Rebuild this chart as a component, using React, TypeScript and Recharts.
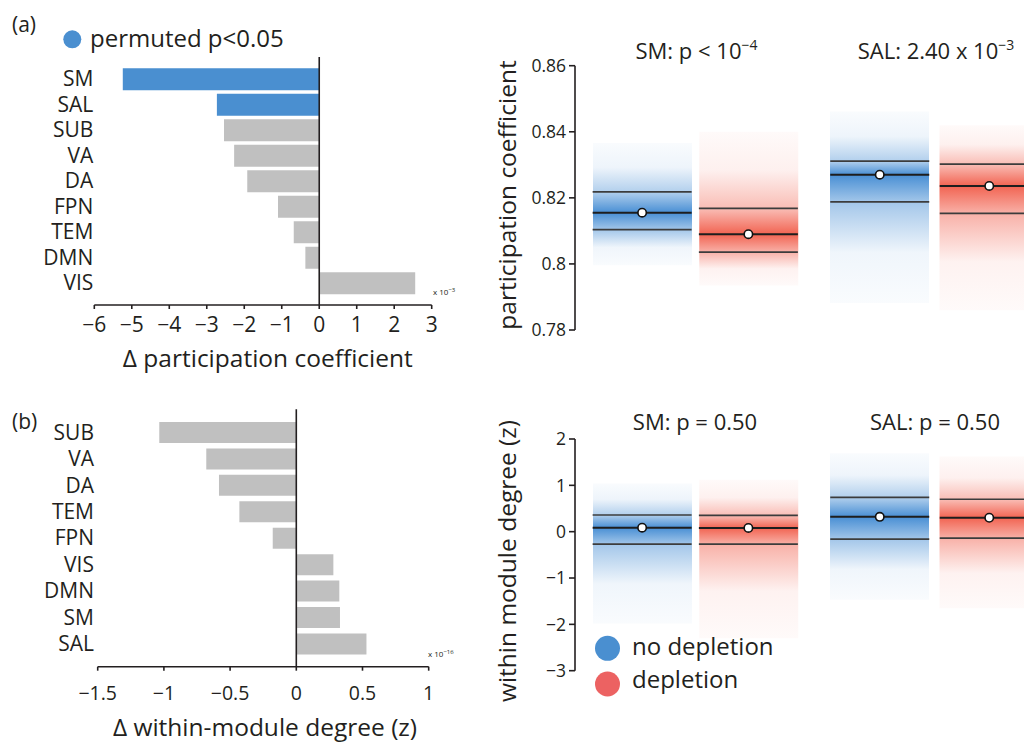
import React from 'react'
import {
  BarChart,
  ComposedChart,
  Bar,
  Scatter,
  XAxis,
  YAxis,
  Cell,
  ReferenceLine,
} from 'recharts'

const FONT = '"Open Sans", sans-serif'
const INK = '#231f20'
const BLUE = '#4a8fd0'
const GRAY = '#c0c0c0'
const BOX_BLUE = '#3f89d2'
const BOX_RED = '#f15c49'
const LEGEND_RED = '#ec6262'
const BOX_W = 99

// (a) change in participation coefficient, x 10^-3
const pcNetworks = ['SM', 'SAL', 'SUB', 'VA', 'DA', 'FPN', 'TEM', 'DMN', 'VIS']
const pcDelta = [-5.24, -2.73, -2.54, -2.27, -1.92, -1.1, -0.68, -0.37, 2.56]
const pcSignificant = [true, true, false, false, false, false, false, false, false]
const pcTicks = [-6, -5, -4, -3, -2, -1, 0, 1, 2, 3]

// (b) change in within-module degree, x 10^-16
const wmdNetworks = ['SUB', 'VA', 'DA', 'TEM', 'FPN', 'VIS', 'DMN', 'SM', 'SAL']
const wmdDelta = [-1.035, -0.68, -0.584, -0.43, -0.178, 0.28, 0.325, 0.33, 0.53]
const wmdTicks = [-1.5, -1, -0.5, 0, 0.5, 1]

const conditions = ['no depletion', 'depletion']

// distributions per condition: [min, lower, mean, upper, max]
const pcSM = [
  [0.7996, 0.8104, 0.8155, 0.8218, 0.8366],
  [0.7935, 0.8036, 0.809, 0.8168, 0.84],
]
const pcSAL = [
  [0.7882, 0.8188, 0.827, 0.8311, 0.8461],
  [0.786, 0.8153, 0.8236, 0.8302, 0.842],
]
const pcBoxTicks = [0.78, 0.8, 0.82, 0.84, 0.86]

const wmdSM = [
  [-1.98, -0.27, 0.086, 0.36, 1.04],
  [-2.3, -0.27, 0.08, 0.35, 1.12],
]
const wmdSAL = [
  [-1.47, -0.16, 0.32, 0.74, 1.69],
  [-1.65, -0.14, 0.3, 0.7, 1.62],
]
const wmdBoxTicks = [-3, -2, -1, 0, 1, 2]

const minus = (v: number) => String(v).replace('-', '\u2212')

type DeltaProps = {
  names: string[];
  values: number[];
  highlight: boolean[];
  ticks: number[];
  top: number;
  height: number;
  marginTop: number;
  yWidth: number;
  marginRight: number;
  padBottom: number;
  barSize: number;
  labelMargin: number;
  tickMargin: number;
  tickFont: number;
}

function DeltaBars({
  names, values, highlight, ticks, top, height, marginTop, yWidth, marginRight,
  padBottom, barSize, labelMargin, tickMargin, tickFont,
}: DeltaProps) {
  const data = names.map((name, i) => ({ name, value: values[i], sig: highlight[i] }))
  return (
    <div style={{ position: 'absolute', left: 0, top }}>
      <BarChart
        layout="vertical"
        width={460}
        height={height}
        data={data}
        margin={{ top: marginTop, right: marginRight, bottom: 0, left: 0 }}
      >
        <XAxis
          type="number"
          domain={[ticks[0], ticks[ticks.length - 1]]}
          ticks={ticks}
          interval={0}
          tickFormatter={minus}
          height={40}
          tickSize={4}
          tickMargin={tickMargin}
          axisLine={{ stroke: INK, strokeWidth: 1.6 }}
          tickLine={{ stroke: INK, strokeWidth: 1.6 }}
          tick={{ fill: INK, fontSize: tickFont, fontFamily: FONT }}
        />
        <YAxis
          type="category"
          dataKey="name"
          width={yWidth}
          interval={0}
          padding={{ top: 0, bottom: padBottom }}
          axisLine={false}
          tickLine={false}
          tickSize={0}
          tickMargin={labelMargin}
          tick={{ fill: INK, fontSize: 21, fontFamily: FONT }}
        />
        <Bar dataKey="value" barSize={barSize} isAnimationActive={false}>
          {data.map((d) => (
            <Cell key={d.name} fill={d.sig ? BLUE : GRAY} />
          ))}
        </Bar>
        <ReferenceLine
          x={0}
          stroke={INK}
          strokeWidth={1.6}
          shape={(p: any) => (
            <line x1={p.x1} x2={p.x2} y1={p.y1} y2={p.y2 - padBottom} stroke={INK} strokeWidth={1.6} />
          )}
        />
      </BarChart>
    </div>
  )
}

function gradientStops(row: number[]) {
  const [lo, ciLo, mean, ciHi, hi] = row
  const off = (v: number) => (hi - v) / (hi - lo)
  return [
    [0, 0.03],
    [off((hi + ciHi) / 2), 0.09],
    [off(ciHi), 0.4],
    [off(mean), 0.95],
    [off(ciLo), 0.48],
    [off((ciLo + lo) / 2), 0.08],
    [1, 0.03],
  ]
}

const ciLine = (p: any) => (
  <line x1={p.cx - BOX_W / 2} x2={p.cx + BOX_W / 2} y1={p.cy} y2={p.cy} stroke="#3c3c3c" strokeWidth={1.7} />
)

const meanMark = (p: any) => (
  <g>
    <line x1={p.cx - BOX_W / 2} x2={p.cx + BOX_W / 2} y1={p.cy} y2={p.cy} stroke="#1e1e1e" strokeWidth={2} />
    <circle cx={p.cx} cy={p.cy} r={4.2} fill="#fff" stroke="#111" strokeWidth={1.6} />
  </g>
)

type BoxProps = {
  id: string;
  rows: number[][];
  ticks: number[];
  showAxis: boolean;
  left: number;
  top: number;
  width: number;
  height: number;
  marginTop: number;
  yWidth: number;
  padLeft: number;
}

function BoxPanel({
  id, rows, ticks, showAxis, left, top, width, height, marginTop, yWidth, padLeft,
}: BoxProps) {
  const data = conditions.map((cond, i) => ({
    cond,
    range: [rows[i][0], rows[i][4]],
    lower: rows[i][1],
    mean: rows[i][2],
    upper: rows[i][3],
  }))
  const colors = [BOX_BLUE, BOX_RED]
  return (
    <div style={{ position: 'absolute', left, top }}>
      <ComposedChart
        width={width}
        height={height}
        data={data}
        margin={{ top: marginTop, right: 0, bottom: 12, left: 0 }}
      >
        <defs>
          {rows.map((row, i) => (
            <linearGradient key={i} id={`${id}-${i}`} x1="0" y1="0" x2="0" y2="1">
              {gradientStops(row).map(([o, a], k) => (
                <stop key={k} offset={o} stopColor={colors[i]} stopOpacity={a} />
              ))}
            </linearGradient>
          ))}
        </defs>
        <XAxis dataKey="cond" type="category" hide padding={{ left: padLeft, right: 0 }} />
        <YAxis
          type="number"
          domain={[ticks[0], ticks[ticks.length - 1]]}
          ticks={ticks}
          interval={0}
          hide={!showAxis}
          width={yWidth}
          tickFormatter={minus}
          tickSize={6}
          tickMargin={3}
          axisLine={{ stroke: INK, strokeWidth: 1.6 }}
          tickLine={{ stroke: INK, strokeWidth: 1.6 }}
          tick={{ fill: INK, fontSize: 17.5, fontFamily: FONT }}
        />
        <Bar dataKey="range" barSize={BOX_W} isAnimationActive={false}>
          {data.map((d, i) => (
            <Cell key={d.cond} fill={`url(#${id}-${i})`} />
          ))}
        </Bar>
        <Scatter dataKey="upper" shape={ciLine} isAnimationActive={false} />
        <Scatter dataKey="lower" shape={ciLine} isAnimationActive={false} />
        <Scatter dataKey="mean" shape={meanMark} isAnimationActive={false} />
      </ComposedChart>
    </div>
  )
}

export default function App() {
  const text = { fill: INK, fontFamily: FONT }
  return (
    <div style={{ position: 'relative', width: 1024, height: 736, overflow: 'hidden', fontFamily: FONT, background: '#fff' }}>
      <DeltaBars
        names={pcNetworks}
        values={pcDelta}
        highlight={pcSignificant}
        ticks={pcTicks}
        top={0}
        height={337}
        marginTop={58.25}
        yWidth={86.3}
        marginRight={36.3}
        padBottom={9.25}
        barSize={22}
        labelMargin={1}
        tickMargin={8}
        tickFont={21}
      />
      <DeltaBars
        names={wmdNetworks}
        values={wmdDelta}
        highlight={wmdNetworks.map(() => false)}
        ticks={wmdTicks}
        top={360}
        height={338.7}
        marginTop={51}
        yWidth={89.7}
        marginRight={39.3}
        padBottom={9.8}
        barSize={21}
        labelMargin={3.7}
        tickMargin={15}
        tickFont={19.5}
      />

      <BoxPanel id="pc-sm" rows={pcSM} ticks={pcBoxTicks} showAxis left={470} top={0} width={323.5} height={334} marginTop={57.7} yWidth={97} padLeft={14} />
      <BoxPanel id="pc-sal" rows={pcSAL} ticks={pcBoxTicks} showAxis={false} left={817.25} top={0} width={219} height={334} marginTop={57.7} yWidth={0} padLeft={0} />
      <BoxPanel id="wmd-sm" rows={wmdSM} ticks={wmdBoxTicks} showAxis left={470} top={400} width={323.5} height={274.7} marginTop={31} yWidth={97} padLeft={14} />
      <BoxPanel id="wmd-sal" rows={wmdSAL} ticks={wmdBoxTicks} showAxis={false} left={817.25} top={400} width={219} height={274.7} marginTop={31} yWidth={0} padLeft={0} />

      <svg width={1024} height={736} style={{ position: 'absolute', left: 0, top: 0, pointerEvents: 'none' }}>
        <text x={4} y={23.5} fontSize={21} {...text}>(a)</text>
        <circle cx={64.3} cy={31.3} r={9} fill={BLUE} />
        <text x={82} y={39} fontSize={24} {...text}>permuted p&lt;0.05</text>
        <text x={425} y={287} fontSize={8} {...text}>
          x 10<tspan fontSize={6} dy={-3}>−3</tspan>
        </text>
        <text x={259.8} y={359} fontSize={24.5} textAnchor="middle" {...text}>Δ participation coefficient</text>

        <text x={4} y={421} fontSize={21} {...text}>(b)</text>
        <text x={420} y={649} fontSize={8} {...text}>
          x 10<tspan fontSize={6} dy={-3}>−16</tspan>
        </text>
        <text x={257} y={728} fontSize={24.5} textAnchor="middle" {...text}>Δ within-module degree (z)</text>

        <text x={508} y={187} fontSize={24.5} textAnchor="middle" transform="rotate(-90 508 187)" {...text}>participation coefficient</text>
        <text x={508} y={553} fontSize={24.5} textAnchor="middle" transform="rotate(-90 508 553)" {...text}>within module degree (z)</text>

        <text x={688.5} y={51} fontSize={22} textAnchor="middle" {...text}>
          SM: p &lt; 10<tspan fontSize={14} dy={-9}>−4</tspan>
        </text>
        <text x={928} y={51} fontSize={22} textAnchor="middle" {...text}>
          SAL: 2.40 x 10<tspan fontSize={14} dy={-9}>−3</tspan>
        </text>
        <text x={687} y={422} fontSize={22} textAnchor="middle" {...text}>SM: p = 0.50</text>
        <text x={927} y={422} fontSize={22} textAnchor="middle" {...text}>SAL: p = 0.50</text>

        <circle cx={599.5} cy={640.3} r={12.5} fill={BLUE} />
        <text x={624} y={647} fontSize={24} {...text}>no depletion</text>
        <circle cx={599.5} cy={676} r={12.5} fill={LEGEND_RED} />
        <text x={624} y={680} fontSize={24} {...text}>depletion</text>
      </svg>
    </div>
  )
}
